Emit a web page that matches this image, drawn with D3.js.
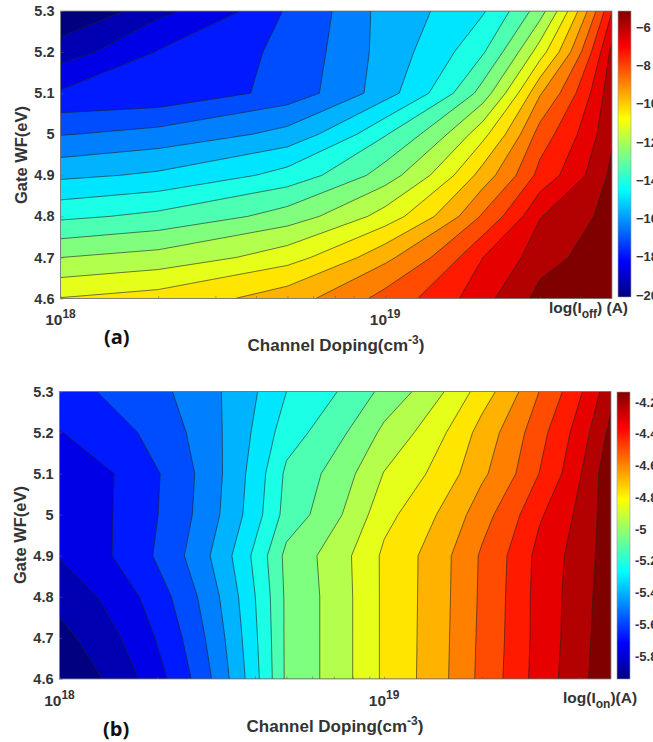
<!DOCTYPE html>
<html>
<head>
<meta charset="utf-8">
<script src="https://cdn.jsdelivr.net/npm/d3@7"></script>
<style>
  html, body { margin: 0; padding: 0; background: #fff; overflow: hidden; }
  text { font-family: "Liberation Sans", Arial, sans-serif; font-weight: bold; fill: #333; }
  .tag { font-family: "Open Sans", sans-serif; fill: #111; }
</style>
</head>
<body>
<svg id="chart" width="653" height="742"></svg>
<script>
//Values
var wf = [5.3, 5.2, 5.1, 5, 4.9, 4.8, 4.7, 4.6];
var wfTicks = [4.6, 4.7, 4.8, 4.9, 5, 5.1, 5.2, 5.3];
var dopingMajor = [1e18, 1e19];
var dopingMinor = [2e18, 3e18, 4e18, 5e18, 6e18, 7e18, 8e18, 9e18, 2e19, 3e19, 4e19];

var dopingOff = [1e18, 2e18, 5e18, 1e19, 2e19, 3e19, 5e19];
var logIoff = [
  [-20.10, -18.79, -17.01, -15.28, -14.20, -12.21, -6.65],
  [-18.92, -17.80, -16.86, -15.28, -13.45, -10.73, -5.67],
  [-17.76, -17.66, -16.77, -15.17, -12.29, -8.96, -5.37],
  [-16.40, -16.09, -15.34, -13.43, -10.61, -7.80, -5.26],
  [-15.02, -14.73, -13.81, -12.24, -9.29, -7.13, -4.96],
  [-13.52, -13.17, -12.25, -10.79, -8.03, -5.93, -4.81],
  [-11.88, -11.58, -10.67, -9.07, -6.65, -5.45, -4.55],
  [-10.35, -10.05, -9.19, -7.84, -6.12, -4.89, -4.48]
];
var ioffRange = [-20.1, -5.15];
var ioffTicks = [-20, -18, -16, -14, -12, -10, -8, -6];

var dopingOn = [1e18, 5e18, 1e19, 2e19, 3e19, 5e19];
var logIon = [
  [-5.613, -5.222, -5.014, -4.725, -4.499, -4.164],
  [-5.677, -5.172, -4.928, -4.643, -4.440, -4.110],
  [-5.749, -5.113, -4.856, -4.607, -4.408, -4.065],
  [-5.749, -5.095, -4.797, -4.535, -4.331, -4.078],
  [-5.758, -5.014, -4.752, -4.485, -4.288, -4.083],
  [-5.827, -5.023, -4.752, -4.481, -4.282, -4.074],
  [-5.882, -5.023, -4.752, -4.476, -4.282, -4.065],
  [-5.936, -5.023, -4.752, -4.471, -4.276, -4.056]
];
var ionRange = [-5.945, -4.137];
var ionTicks = [-5.8, -5.6, -5.4, -5.2, -5, -4.8, -4.6, -4.4, -4.2];

var nLevels = 20;

//jet colormap
var jet = d3.scaleLinear()
    .domain([0, 0.125, 0.375, 0.625, 0.875, 1])
    .range(['#000080', '#0000ff', '#00ffff', '#ffff00', '#ff0000', '#800000'])
    .clamp(true);

var svg = d3.select('#chart');

drawPanel({
  id: 'a', x0: 60.5, x1: 612, y0: 11, y1: 298.5,
  doping: dopingOff, values: logIoff, range: ioffRange, ticks: ioffTicks,
  barX: 618, barW: 13, barY0: 11, barY1: 297,
  tickFormat: d3.format('d'), tag: '(a)', tagX: 104, tagY: 344,
  xlabelY: 351, xlabelX: 336, ylabelX: 27, ylabelY: 155,
  colorLabel: ['log(I', 'off', ') (A)'], colorLabelX: 549, colorLabelY: 313
});

drawPanel({
  id: 'b', x0: 59.5, x1: 611, y0: 391.5, y1: 679,
  doping: dopingOn, values: logIon, range: ionRange, ticks: ionTicks,
  barX: 617, barW: 13, barY0: 392, barY1: 679,
  tickFormat: function(d) { return d; }, tag: '(b)', tagX: 103, tagY: 736,
  xlabelY: 732, xlabelX: 335, ylabelX: 26, ylabelY: 535,
  colorLabel: ['log(I', 'on', ')(A)'], colorLabelX: 563, colorLabelY: 703
});

function drawPanel(p) {
  var g = svg.append('g').attr('class', 'panel-' + p.id);

  var scaleX = d3.scaleLog().domain([1e18, 5e19]).range([p.x0, p.x1]);
  var scaleY = d3.scaleLinear().domain([4.6, 5.3]).range([p.y1, p.y0]);

  //grid index -> data value, contour vertices are linear in doping and not in log
  var nx = p.doping.length, ny = wf.length;
  var indexX = d3.scaleLinear().domain(d3.range(nx)).range(p.doping).clamp(true);
  var indexY = d3.scaleLinear().domain(d3.range(ny)).range(wf).clamp(true);

  var toScreen = d3.geoTransform({
    point: function(x, y) {
      this.stream.point(scaleX(indexX(x - 0.5)), scaleY(indexY(y - 0.5)));
    }
  });
  var path = d3.geoPath(toScreen);

  var step = (p.range[1] - p.range[0]) / nLevels;
  var levels = d3.range(0, nLevels + 1).map(function(k) { return p.range[0] + k * step; });
  var color = function(v) { return jet((v - p.range[0]) / (p.range[1] - p.range[0])); };

  var contours = d3.contours()
      .size([nx, ny])
      .thresholds(levels)(d3.merge(p.values));

  var clipId = 'clip-' + p.id;
  g.append('clipPath').attr('id', clipId)
    .append('rect')
    .attr('x', p.x0).attr('y', p.y0)
    .attr('width', p.x1 - p.x0).attr('height', p.y1 - p.y0);

  var plot = g.append('g').attr('clip-path', 'url(#' + clipId + ')');

  plot.append('rect')
    .attr('x', p.x0).attr('y', p.y0)
    .attr('width', p.x1 - p.x0).attr('height', p.y1 - p.y0)
    .attr('fill', color(p.range[0]));

  plot.selectAll('.band')
    .data(contours)
    .enter()
    .append('path')
    .attr('class', 'band')
    .attr('d', path)
    .attr('fill', function(d) { return color(d.value); })
    .attr('stroke', '#222')
    .attr('stroke-opacity', 0.8)
    .attr('stroke-width', 0.75);

  //axes
  var axisLeft = d3.axisLeft(scaleY)
      .tickValues(wfTicks)
      .tickFormat(function(d) { return d; })
      .tickSize(-3)
      .tickPadding(6);
  var gy = g.append('g').attr('transform', 'translate(' + p.x0 + ',0)').call(axisLeft);
  gy.select('.domain').remove();
  gy.selectAll('line').attr('stroke', '#666').attr('stroke-width', 0.5);
  gy.selectAll('text').attr('font-size', 14.5);

  var minor = d3.axisBottom(scaleX)
      .tickValues(dopingMinor.concat(dopingMajor))
      .tickFormat('')
      .tickSize(-2.5);
  var gx = g.append('g').attr('transform', 'translate(0,' + p.y1 + ')').call(minor);
  gx.select('.domain').remove();
  gx.selectAll('line').attr('stroke', '#555').attr('stroke-width', 0.5);

  g.selectAll('.xtick')
    .data(dopingMajor)
    .enter()
    .append('text')
    .attr('class', 'xtick')
    .attr('x', function(d) { return scaleX(d); })
    .attr('y', p.y1 + 26.5)
    .attr('text-anchor', 'middle')
    .attr('font-size', 15.5)
    .each(function(d) {
      var t = d3.select(this);
      t.append('tspan').text('10');
      t.append('tspan').attr('dy', -7).attr('font-size', 12).text(Math.round(Math.log10(d)));
    });

  //frame on top of the contour strokes
  g.append('rect')
    .attr('x', p.x0).attr('y', p.y0)
    .attr('width', p.x1 - p.x0).attr('height', p.y1 - p.y0)
    .attr('fill', 'none')
    .attr('stroke', '#888')
    .attr('stroke-width', 0.8);

  //axis titles
  g.append('text')
    .attr('transform', 'translate(' + p.ylabelX + ',' + p.ylabelY + ') rotate(-90)')
    .attr('text-anchor', 'middle')
    .attr('font-size', 16.5)
    .text('Gate WF(eV)');

  var xl = g.append('text')
    .attr('x', p.xlabelX).attr('y', p.xlabelY)
    .attr('text-anchor', 'middle')
    .attr('font-size', 17);
  xl.append('tspan').text('Channel Doping(cm');
  xl.append('tspan').attr('dy', -7).attr('font-size', 12).text('-3');
  xl.append('tspan').attr('dy', 7).text(')');

  var cl = g.append('text')
    .attr('x', p.colorLabelX).attr('y', p.colorLabelY)
    .attr('font-size', 15.5);
  cl.append('tspan').text(p.colorLabel[0]);
  cl.append('tspan').attr('dy', 5).attr('font-size', 12).text(p.colorLabel[1]);
  cl.append('tspan').attr('dy', -5).text(p.colorLabel[2]);

  g.append('text')
    .attr('class', 'tag')
    .attr('x', p.tagX).attr('y', p.tagY)
    .attr('font-size', 20)
    .text(p.tag);

  //colorbar
  var scaleBar = d3.scaleLinear().domain(p.range).range([p.barY1, p.barY0]);
  var gradId = 'grad-' + p.id;
  var grad = g.append('linearGradient')
      .attr('id', gradId)
      .attr('x1', 0).attr('y1', 1).attr('x2', 0).attr('y2', 0);
  grad.selectAll('stop')
    .data(jet.domain())
    .enter()
    .append('stop')
    .attr('offset', function(d) { return d; })
    .attr('stop-color', function(d) { return jet(d); });

  g.append('rect')
    .attr('x', p.barX).attr('y', p.barY0)
    .attr('width', p.barW).attr('height', p.barY1 - p.barY0)
    .attr('fill', 'url(#' + gradId + ')')
    .attr('stroke', '#999')
    .attr('stroke-width', 0.6);

  var axisBar = d3.axisRight(scaleBar)
      .tickValues(p.ticks)
      .tickFormat(p.tickFormat)
      .tickSize(0)
      .tickPadding(5);
  var gb = g.append('g').attr('transform', 'translate(' + (p.barX + p.barW) + ',0)').call(axisBar);
  gb.select('.domain').remove();
  gb.selectAll('text').attr('font-size', 13);
}
</script>
</body>
</html>
